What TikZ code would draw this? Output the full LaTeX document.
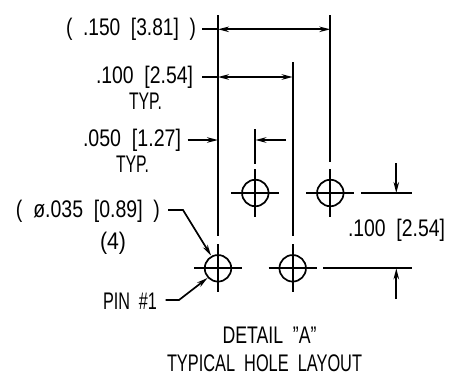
\documentclass[tikz,border=0pt]{standalone}
\usepackage{graphicx}
\usepackage{fontspec}
\setmainfont{Liberation Sans}
\usetikzlibrary{arrows.meta}
\newcommand{\fitw}[2]{\resizebox{#1pt}{\height}{#2}}
\tikzset{
  lbl/.style={inner sep=0pt,outer sep=0pt,font=\fontsize{24}{24}\selectfont,text=black},
  ln/.style={line width=1.7pt,black,line cap=butt},
  dim/.style={ln,-{Stealth[length=11pt,width=5.5pt]}},
  dimb/.style={ln,{Stealth[length=11pt,width=5.5pt]}-{Stealth[length=11pt,width=5.5pt]}},
  hole/.style={circle,draw,line width=1.7pt,minimum size=26.5pt,inner sep=0pt,outer sep=0pt}
}
\begin{document}
\begin{tikzpicture}[x=1pt,y=-1pt]
\useasboundingbox (0,0) rectangle (474,381);
% holes
\node[hole] (h1) at (218,268.3) {};
\node[hole] (h2) at (292.7,268.3) {};
\node[hole] (h3) at (255.3,193) {};
\node[hole] (h4) at (330.3,193) {};
\foreach \h in {h1,h2,h3,h4}{
  \draw[ln] ([yshift=24pt]\h.center) -- ([yshift=-24pt]\h.center);
  \draw[ln] ([xshift=-24pt]\h.center) -- ([xshift=24pt]\h.center);
}
% extension lines
\coordinate (e1t) at (218,15);   \coordinate (e1b) at (218,236);
\coordinate (e2t) at (292.7,62); \coordinate (e2b) at (292.7,236);
\coordinate (e3t) at (255.3,129);\coordinate (e3b) at (255.3,164);
\coordinate (e4t) at (330.3,15); \coordinate (e4b) at (330.3,161.5);
\draw[ln] (e1t) -- (e1b);
\draw[ln] (e2t) -- (e2b);
\draw[ln] (e3t) -- (e3b);
\draw[ln] (e4t) -- (e4b);
\coordinate (r1a) at (361,193); \coordinate (r1b) at (411.5,193);
\coordinate (r2a) at (323,268.3); \coordinate (r2b) at (411.5,268.3);
\draw[ln] (r1a) -- (r1b);
\draw[ln] (r2a) -- (r2b);
% labels
\node[lbl,anchor=east] (t150) at (196,29) {\fitw{130}{(\ \ .150\ \ [3.81]\ \ )}};
\node[lbl,anchor=east] (t100) at (193,77) {\fitw{97}{.100\ \ [2.54]}};
\node[lbl,anchor=center] (typ1) at (145.5,101.5) {\fitw{33}{TYP.}};
\node[lbl,anchor=east] (t050) at (181,140) {\fitw{98}{.050\ \ [1.27]}};
\node[lbl,anchor=center] (typ2) at (132.5,164.5) {\fitw{33}{TYP.}};
\node[lbl,anchor=east] (t035) at (160,211) {\fitw{144}{(\ \ ø.035\ \ [0.89]\ \ )}};
\node[lbl,anchor=center] (t4) at (113,243) {\fitw{26}{(4)}};
\node[lbl,anchor=east] (pin) at (157,301) {\fitw{54}{PIN\ \ \#1}};
\node[lbl,anchor=west] (tr) at (348,230) {\fitw{97}{.100\ \ [2.54]}};
\node[lbl,anchor=center] (d1) at (269.5,335) {\fitw{94}{DETAIL\ \ "A"}};
\node[lbl,anchor=center] (d2) at (264.5,363) {\fitw{195}{TYPICAL\ \ HOLE\ \ LAYOUT}};
% dimension arrows
\coordinate (a1) at (202,29.3); \coordinate (a1l) at (218,29.3); \coordinate (a1r) at (330.3,29.3);
\draw[dimb] (a1l) -- (a1r);
\draw[ln] (a1) -- (a1l);
\coordinate (a2) at (202,77); \coordinate (a2l) at (218,77); \coordinate (a2r) at (292.7,77);
\draw[dimb] (a2l) -- (a2r);
\draw[ln] (a2) -- (a2l);
\coordinate (a3) at (187.5,140); \coordinate (a3r) at (218,140);
\draw[dim] (a3) -- (a3r);
\coordinate (a4) at (286,140); \coordinate (a4l) at (255.3,140);
\draw[dim] (a4) -- (a4l);
\coordinate (a5) at (396.3,163); \coordinate (a5e) at (396.3,193);
\draw[dim] (a5) -- (a5e);
\coordinate (a6) at (396.3,299); \coordinate (a6e) at (396.3,268.3);
\draw[dim] (a6) -- (a6e);
% leaders
\coordinate (l1) at (168,210); \coordinate (l1b) at (183,210); \coordinate (l1t) at (211,255.5);
\draw[dim] (l1) -- (l1b) -- (l1t);
\coordinate (l2) at (165.5,300); \coordinate (l2b) at (179,300); \coordinate (l2t) at (207.5,278);
\draw[dim] (l2) -- (l2b) -- (l2t);
\end{tikzpicture}
\end{document}
